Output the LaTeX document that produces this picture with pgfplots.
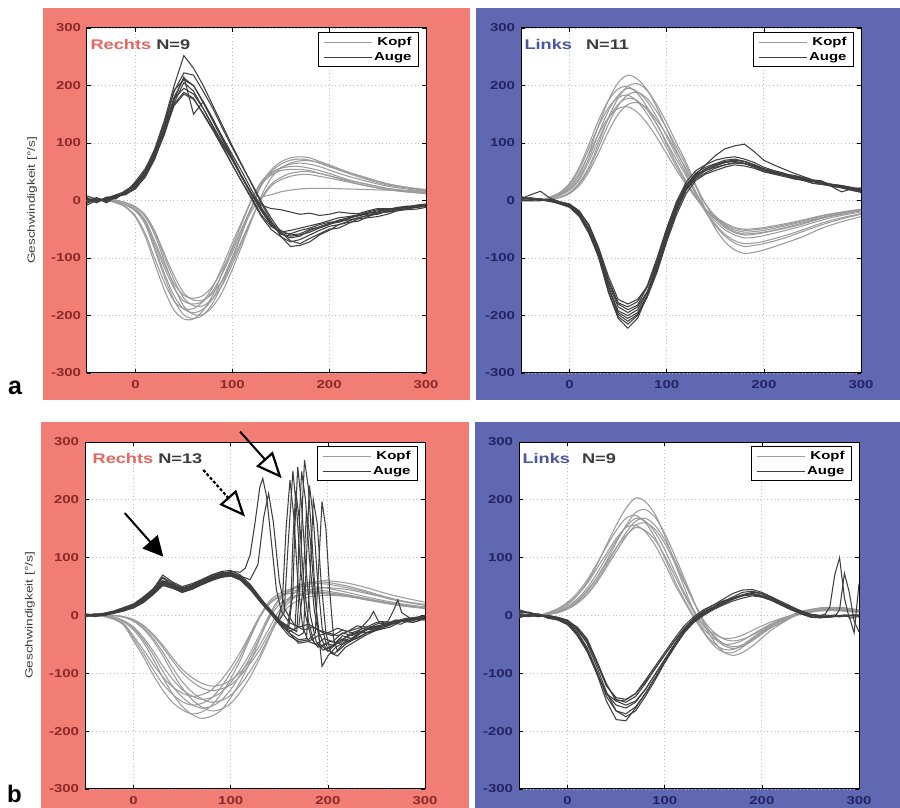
\documentclass[border=0pt]{standalone}
\usepackage{fontspec}
\setmainfont{Liberation Sans}[FakeStretch=1.3]
\newfontfamily\plainfont{Liberation Sans}
\usepackage{pgfplots}
\usepackage{pgfplotstable}
\pgfplotsset{compat=1.18}
\usetikzlibrary{arrows.meta}

\definecolor{redbg}{RGB}{242,125,116}
\definecolor{bluebg}{RGB}{96,104,178}
\definecolor{redtick}{RGB}{140,40,40}
\definecolor{bluetick}{RGB}{35,35,100}
\definecolor{rechtsc}{RGB}{232,102,96}
\definecolor{linksc}{RGB}{75,85,165}
\definecolor{darkt}{RGB}{60,60,60}
\definecolor{headc}{RGB}{155,155,155}
\definecolor{eyec}{RGB}{62,62,62}

% ---------- a, Rechts: Kopf ----------
\pgfplotstableread{
t h1 h2 h3 h4 h5 h6 h7 h8 h9
-50 0 0 0 0 0 0 0 0 0
-40 0 0 0 0 0 0 0 0 0
-30 0 0 0 0 0 0 0 0 0
-20 -4 -2 0 -2 -4 0 -2 0 -2
-10 -12 -8 -4 -8 -11 -4 -7 -4 -7
0 -29 -18 -12 -18 -27 -11 -16 -11 -15
10 -62 -41 -28 -39 -57 -26 -36 -25 -34
20 -110 -86 -60 -82 -101 -56 -76 -53 -71
30 -156 -133 -106 -127 -143 -98 -117 -93 -111
40 -191 -174 -150 -166 -175 -139 -153 -131 -145
50 -206 -199 -184 -189 -188 -170 -175 -161 -165
60 -206 -205 -198 -195 -188 -183 -180 -173 -170
70 -191 -199 -198 -189 -175 -183 -175 -173 -165
80 -164 -178 -184 -170 -150 -170 -157 -161 -148
90 -125 -144 -158 -137 -114 -146 -126 -138 -119
100 -81 -103 -120 -98 -74 -111 -90 -105 -85
110 -40 -57 -78 -55 -36 -72 -50 -68 -48
120 1 -13 -34 -13 2 -32 -18 -31 -10
130 30 30 8 26 33 4 5 2 29
140 44 53 39 46 48 28 10 25 50
150 52 67 56 57 56 40 15 36 63
160 54 74 65 63 59 47 18 42 70
170 54 76 69 65 59 50 20 45 72
180 52 74 69 63 56 50 21 45 70
190 47 68 66 59 52 47 21 42 65
200 43 62 60 53 47 43 21 39 59
220 33 49 49 42 36 35 20 32 47
240 25 38 39 33 28 28 19 25 36
260 19 29 29 25 21 21 18 19 27
280 15 23 23 20 17 17 17 15 22
300 12 18 19 16 13 14 16 12 17
}\aLh

% ---------- a, Rechts: Auge ----------
\pgfplotstableread{
t e1 e2 e3 e4 e5 e6 e7 e8 e9
-50 5 -3 2 8 -5 3 0 -8 4
-40 -2 4 -4 2 3 -3 5 0 -2
-30 4 1 6 -2 0 5 -4 3 2
-20 10 6 4 9 5 8 6 3 7
-10 16 12 15 10 18 14 11 16 13
0 30 24 28 22 27 30 20 25 33
10 52 45 48 40 44 50 42 46 55
20 90 82 80 72 78 85 75 80 88
30 140 130 125 118 122 128 115 120 135
40 200 190 180 170 175 178 168 165 192
50 252 222 213 205 215 195 188 185 210
60 230 218 200 190 150 185 178 176 200
70 200 190 172 160 172 160 150 152 170
80 165 160 140 128 142 130 122 124 138
90 130 125 110 95 108 100 92 98 105
100 95 92 80 62 75 72 62 70 72
110 62 60 50 32 42 40 32 40 40
120 28 30 18 5 12 10 2 12 10
130 -5 -2 -12 -25 -18 -8 -28 -15 -18
140 -35 -30 -38 -45 -42 -14 -50 -40 -42
150 -62 -55 -52 -55 -58 -16 -63 -58 -56
160 -80 -70 -60 -52 -62 -20 -72 -65 -58
170 -78 -75 -58 -48 -60 -24 -68 -62 -52
180 -72 -66 -50 -44 -55 -22 -60 -52 -48
190 -60 -58 -46 -40 -48 -26 -52 -46 -42
200 -52 -50 -40 -35 -42 -24 -45 -40 -38
210 -42 -48 -38 -30 -36 -20 -42 -34 -36
220 -38 -40 -32 -28 -34 -22 -36 -30 -30
230 -36 -32 -25 -25 -30 -23 -30 -27 -26
240 -28 -30 -22 -20 -26 -18 -26 -22 -24
250 -22 -28 -20 -16 -22 -14 -24 -18 -22
260 -20 -24 -16 -15 -20 -14 -18 -16 -18
270 -18 -18 -12 -14 -16 -15 -14 -14 -13
280 -14 -16 -10 -12 -15 -12 -12 -10 -12
290 -10 -15 -12 -8 -12 -9 -11 -9 -12
300 -10 -12 -8 -6 -10 -8 -9 -7 -10
}\aLe

% ---------- a, Links: Kopf ----------
\pgfplotstableread{
t h1 h2 h3 h4 h5 h6 h7 h8 h9
-50 0 0 0 0 0 0 0 0 0
-40 0 0 0 0 0 0 0 0 0
-30 0 0 0 0 0 0 0 0 0
-20 4 2 6 4 2 6 4 2 5
-10 11 6 14 10 6 13 9 5 12
0 22 14 30 20 13 28 18 12 25
10 44 31 58 39 29 54 36 26 48
20 83 59 98 74 55 91 68 50 81
30 131 100 140 117 93 130 107 84 116
40 174 144 174 156 133 161 142 120 144
50 205 178 194 183 165 179 167 150 160
60 218 199 198 195 184 183 178 167 163
70 211 203 186 189 188 172 173 170 153
80 192 191 162 172 177 150 157 160 134
90 161 166 132 144 154 122 132 139 109
100 124 135 98 111 125 91 101 114 81
110 87 100 64 78 93 59 71 84 53
120 52 66 34 47 61 31 43 55 28
130 15 26 6 12 26 6 10 24 4
140 -16 -16 -17 -19 -7 -15 -20 -6 -17
150 -36 -49 -30 -41 -31 -28 -44 -27 -32
160 -51 -72 -43 -59 -47 -39 -62 -41 -45
170 -60 -86 -51 -70 -56 -47 -74 -48 -54
180 -65 -92 -55 -75 -60 -50 -80 -52 -58
190 -64 -90 -54 -74 -59 -49 -78 -51 -57
200 -61 -86 -52 -71 -56 -47 -75 -49 -55
220 -53 -75 -45 -62 -49 -41 -66 -43 -48
240 -44 -63 -37 -51 -41 -34 -54 -35 -39
260 -34 -48 -29 -39 -31 -26 -42 -27 -30
280 -26 -37 -22 -30 -24 -20 -32 -21 -23
300 -20 -28 -17 -23 -18 -15 -24 -16 -17
}\aRh

% ---------- a, Links: Auge ----------
\pgfplotstableread{
t e1 e2 e3 e4 e5 e6 e7 e8 e9
-50 5 2 6 3 0 4 1 7 3
-40 3 4 2 10 1 3 0 2 5
-30 2 0 3 16 2 1 3 0 2
-20 0 2 -1 4 1 -2 0 1 0
-10 -5 -3 -6 -2 -4 -5 -3 -6 -4
0 -10 -8 -12 -6 -9 -8 -7 -11 -9
10 -26 -22 -28 -18 -24 -20 -19 -25 -23
20 -55 -50 -58 -45 -50 -44 -42 -52 -52
30 -100 -92 -98 -88 -90 -85 -82 -95 -96
40 -160 -150 -152 -145 -140 -138 -132 -150 -158
50 -205 -198 -192 -185 -180 -178 -172 -195 -202
60 -222 -210 -200 -195 -190 -185 -180 -205 -215
70 -205 -198 -190 -185 -182 -176 -172 -195 -200
80 -165 -165 -160 -158 -150 -148 -150 -165 -168
90 -115 -120 -115 -110 -105 -100 -108 -120 -125
100 -60 -68 -62 -55 -50 -48 -55 -65 -72
110 -15 -20 -14 -8 -5 -2 -10 -18 -25
120 20 18 22 26 28 32 24 18 12
130 40 45 42 48 45 52 44 38 35
140 52 62 55 58 52 62 55 48 46
150 60 78 62 64 58 70 62 56 52
160 66 90 68 70 62 74 66 62 58
170 70 95 70 72 65 76 68 66 62
180 68 98 68 68 64 72 65 64 60
190 62 85 62 62 60 66 60 58 56
200 55 70 55 55 52 58 54 50 50
210 52 62 48 50 48 52 48 46 47
220 46 55 46 45 44 48 45 42 44
230 40 48 44 38 42 42 40 38 40
240 38 42 40 36 38 40 37 35 38
250 34 36 34 33 30 35 34 30 33
260 30 34 32 30 28 32 30 28 30
270 28 24 28 26 25 28 26 25 27
280 25 15 26 24 22 26 24 22 24
290 21 20 22 20 18 23 20 18 21
300 18 22 20 16 15 20 16 14 18
}\aRe

% ---------- b, Rechts: Kopf ----------
\pgfplotstableread{
t h1 h2 h3 h4 h5 h6 h7 h8 h9 h10
-50 0 0 0 0 0 0 0 0 0 0
-40 0 0 0 0 0 0 0 0 0 0
-30 0 -2 0 0 -2 0 0 -1 0 0
-20 -4 -7 0 -3 -6 0 -3 -6 0 0
-10 -11 -17 -3 -10 -16 -3 -9 -14 -3 -2
0 -25 -44 -10 -22 -40 -9 -20 -36 -8 -7
10 -46 -71 -23 -42 -65 -21 -38 -59 -18 -17
20 -75 -102 -43 -67 -93 -39 -61 -84 -34 -32
30 -107 -129 -69 -96 -118 -63 -87 -106 -55 -51
40 -135 -150 -99 -122 -136 -90 -110 -123 -78 -73
50 -157 -163 -125 -141 -149 -114 -128 -134 -99 -93
60 -171 -170 -145 -154 -155 -132 -139 -140 -114 -107
70 -178 -167 -158 -160 -152 -144 -145 -137 -125 -117
80 -174 -156 -165 -157 -143 -150 -142 -129 -130 -122
90 -164 -136 -162 -147 -124 -147 -133 -112 -127 -120
100 -142 -109 -152 -128 -99 -138 -116 -90 -120 -112
110 -114 -77 -132 -102 -70 -120 -93 -63 -104 -98
120 -80 -39 -106 -72 -35 -96 -65 -32 -83 -78
130 -40 -3 -74 -38 -1 -68 -32 -1 -59 -51
140 -1 22 -37 -4 25 -35 2 20 -29 -21
150 26 34 1 19 38 -4 29 32 1 9
160 41 41 30 30 45 16 44 38 23 27
170 50 44 45 36 49 26 52 41 36 34
180 54 45 54 39 50 32 57 42 43 37
190 55 44 59 40 49 34 58 41 47 38
200 54 42 60 39 47 35 57 39 48 37
220 48 36 56 35 40 33 51 34 45 33
240 40 29 48 29 32 28 42 27 38 27
260 30 23 38 22 25 22 32 21 31 21
280 23 17 30 17 19 18 24 16 24 16
300 18 14 23 13 15 13 19 13 18 12
}\bLh

% ---------- b, Links: Kopf ----------
\pgfplotstableread{
t h1 h2 h3 h4 h5 h6 h7 h8
-50 0 0 0 0 0 0 0 0
-40 0 0 0 0 0 0 0 0
-30 0 0 0 0 0 0 0 0
-20 4 2 5 3 2 5 3 2
-10 10 6 12 8 5 11 8 5
0 18 13 23 15 11 21 14 12
10 35 24 39 29 21 35 26 22
20 57 41 61 47 36 55 43 37
30 87 65 89 72 57 81 65 60
40 122 94 119 101 83 107 91 87
50 156 126 147 129 110 133 117 116
60 185 155 168 153 136 152 138 143
70 203 178 173 168 156 156 152 163
80 197 183 161 163 160 145 147 168
90 175 170 135 144 149 122 131 156
100 138 142 100 114 125 90 103 131
110 93 105 61 77 92 55 70 97
120 49 65 28 40 57 25 36 60
130 7 25 -1 9 23 -4 6 23
140 -27 -14 -23 -17 -8 -29 -18 -10
150 -47 -43 -39 -34 -28 -51 -31 -36
160 -58 -62 -49 -48 -40 -63 -39 -51
170 -59 -69 -49 -54 -44 -64 -39 -57
180 -51 -64 -43 -51 -41 -55 -34 -53
190 -39 -53 -33 -41 -34 -42 -26 -44
200 -27 -39 -23 -30 -25 -29 -18 -32
210 -17 -25 -14 -20 -16 -18 -11 -21
220 -7 -14 -6 -11 -9 -8 -5 -12
230 0 -4 0 -3 -3 0 0 -3
240 6 4 5 3 2 7 4 3
260 12 13 10 10 8 13 8 10
280 12 14 10 11 9 13 8 12
300 7 10 6 8 6 8 5 8
}\bRh

% ---------- b, Links: Auge ----------
\pgfplotstableread{
t e1 e2 e3 e4 e5 e6 e7 e8
-50 8 3 -2 5 0 10 2 -4
-40 4 2 1 6 -2 5 0 1
-30 2 0 3 1 1 0 -2 2
-20 -2 -1 -4 0 -3 -2 0 -5
-10 -6 -4 -8 -3 -5 -6 -4 -7
0 -14 -10 -16 -8 -12 -13 -9 -15
10 -30 -24 -32 -22 -25 -28 -20 -35
20 -58 -48 -60 -42 -45 -55 -40 -62
30 -100 -88 -98 -80 -82 -95 -78 -100
40 -148 -132 -135 -120 -122 -140 -118 -135
50 -180 -165 -155 -145 -142 -165 -148 -148
60 -182 -175 -160 -150 -145 -170 -155 -146
70 -160 -165 -150 -140 -135 -158 -148 -135
80 -135 -140 -128 -118 -115 -135 -128 -112
90 -108 -112 -102 -92 -92 -108 -102 -88
100 -80 -82 -76 -68 -68 -80 -76 -64
110 -52 -55 -50 -45 -44 -54 -50 -40
120 -28 -30 -26 -24 -22 -30 -27 -18
130 -10 -10 -8 -6 -5 -12 -10 -2
140 2 4 5 6 8 0 2 10
150 12 14 14 15 18 10 12 18
160 20 24 22 24 28 18 20 25
170 28 32 30 30 38 25 28 30
180 35 40 36 34 44 30 34 35
190 38 42 40 36 45 34 38 36
200 34 38 38 32 40 32 35 32
210 28 30 32 26 32 28 30 26
220 20 22 24 18 22 20 22 18
230 12 14 16 10 14 12 14 10
240 5 8 8 4 6 6 8 3
250 0 2 2 -2 0 0 2 -3
260 -2 0 -1 -4 -2 -2 0 -4
265 -1 2 -2 -3 -1 -3 1 -3
270 -2 15 -2 -3 -2 -2 0 -2
275 -1 70 -1 -2 -1 -1 1 -2
280 -2 100 -1 10 -1 -2 0 -2
285 -1 30 0 73 0 -1 1 -1
290 0 -5 0 40 0 -2 0 -1
295 0 -3 1 -10 0 -30 0 0
300 0 -2 0 -28 1 55 0 0
}\bRe

\pgfplotsset{
  kopfline/.style={headc, line width=1.05pt, smooth},
  augeline/.style={eyec, line width=1.05pt},
  panel/.style={
    scale only axis, anchor=south west,
    xmin=-50, xmax=300, ymin=-300, ymax=300,
    xtick={0,100,200,300}, xticklabels={0,100,200,300},
    ytick={-300,-200,-100,0,100,200,300},
    yticklabels={-300,-200,-100,0,100,200,300},
    grid=major,
    grid style={gray!50, line width=0.9pt, dash pattern=on 1pt off 2.6pt},
    axis line style={black, line width=1pt},
    tick style={black, line width=0.7pt},
    major tick length=4pt,
    axis background/.style={fill=white},
    ticklabel style={font=\bfseries\fontsize{11.5}{12}\selectfont},
    yticklabel style={xshift=-2.5pt},
    xticklabel style={yshift=-4pt},
    legend cell align=right,
    legend style={at={(1,1)}, anchor=north east, xshift=-7pt, yshift=-4pt,
      draw=black, line width=1pt, fill=white,
      font=\bfseries\fontsize{11.5}{12}\selectfont, inner xsep=5pt, inner ysep=3pt,
      row sep=1pt},
    legend image code/.code={\draw[#1] (0pt,0pt) -- (48pt,0pt);},
  },
  leftlabel/.style={
    ylabel={Geschwindigkeit [°/s]},
    ylabel style={at={(axis description cs:-0.162,0.5)}, anchor=center,
      font=\fontsize{10.5}{11}\selectfont, text=darkt},
  },
}

\begin{document}
\begin{tikzpicture}[x=1pt,y=1pt]
\useasboundingbox (0,0) rectangle (900,808);
\fill[redbg] (43,408) rectangle (470,800);
\fill[bluebg] (476,408) rectangle (900,800);
\fill[redbg] (41,0) rectangle (469,386);
\fill[bluebg] (475,0) rectangle (900,386);
\node[anchor=base west, inner sep=0pt, font=\plainfont\bfseries\fontsize{25}{26}\selectfont] at (8,413) {a};
\node[anchor=base west, inner sep=0pt, font=\plainfont\bfseries\fontsize{24}{25}\selectfont] at (7,5) {b};

% ===== a left =====
\begin{axis}[panel, leftlabel, at={(87pt,435pt)}, width=339pt, height=345pt,
  ticklabel style={text=redtick}]
\pgfplotsinvokeforeach{1,...,9}{\addplot[kopfline, forget plot] table[x=t,y=h#1] {\aLh};}
\pgfplotsinvokeforeach{1,...,9}{\addplot[augeline, forget plot] table[x=t,y=e#1] {\aLe};}
\node[anchor=base west, font=\bfseries\fontsize{14}{15}\selectfont] at (rel axis cs:0,0.939)
  {\textcolor{rechtsc}{Rechts} \textcolor{darkt}{N=9}};
\addlegendimage{kopfline}\addlegendentry{Kopf}
\addlegendimage{augeline}\addlegendentry{Auge}
\end{axis}

% ===== a right =====
\begin{axis}[panel, at={(521pt,435pt)}, width=340pt, height=345pt,
  ticklabel style={text=bluetick}]
\pgfplotsinvokeforeach{1,...,9}{\addplot[kopfline, forget plot] table[x=t,y=h#1] {\aRh};}
\pgfplotsinvokeforeach{1,...,9}{\addplot[augeline, forget plot] table[x=t,y=e#1] {\aRe};}
\node[anchor=base west, font=\bfseries\fontsize{14}{15}\selectfont] at (rel axis cs:0,0.939)
  {\textcolor{linksc}{Links}\hspace{14pt}\textcolor{darkt}{N=11}};
\addlegendimage{kopfline}\addlegendentry{Kopf}
\addlegendimage{augeline}\addlegendentry{Auge}
\end{axis}

% ===== b left =====
\begin{axis}[panel, leftlabel, at={(85pt,19pt)}, width=340pt, height=347pt,
  ticklabel style={text=redtick}, clip=false]
\pgfplotsinvokeforeach{1,...,10}{\addplot[kopfline, forget plot] table[x=t,y=h#1] {\bLh};}
\addplot[augeline, forget plot] coordinates {(-50,2)(-40,-1)(-30,3)(-20,6)(-10,11)(0,18)(10,30)(20,44)(30,60)(40,55)(50,46)(60,52)(70,60)(80,66)(90,72)(100,76)(110,75)(115,82)(120,105)(125,160)(130,222)(133,237)(137,205)(142,125)(147,45)(152,8)(160,-12)(170,-20)(180,-15)(190,-25)(200,-30)(210,-22)(220,-28)(230,-18)(240,-20)(250,-12)(260,-15)(270,-8)(280,-10)(290,-4)(300,-6)};
\addplot[augeline, forget plot] coordinates {(-50,0)(-40,2)(-30,1)(-20,5)(-10,9)(0,15)(10,26)(20,40)(30,56)(40,50)(50,42)(60,48)(70,56)(80,64)(90,70)(100,72)(110,68)(120,62)(128,88)(134,170)(139,211)(144,160)(150,60)(156,10)(165,-15)(175,-25)(185,-20)(195,-30)(205,-35)(215,-25)(225,-30)(240,-20)(255,-18)(270,-10)(285,-8)(300,-4)};
\addplot[augeline, forget plot] coordinates {(-50,-2)(-40,1)(-30,4)(-20,7)(-10,10)(0,14)(10,24)(20,36)(30,52)(40,48)(50,40)(60,46)(70,54)(80,62)(90,66)(100,70)(110,64)(120,50)(130,30)(140,10)(148,-10)(153,20)(157,150)(161,234)(165,170)(169,60)(174,-20)(180,-45)(188,-50)(196,-40)(205,-45)(215,-30)(225,-35)(235,-22)(245,-25)(258,-15)(270,-12)(285,-6)(300,-8)};
\addplot[augeline, forget plot] coordinates {(-50,1)(-40,0)(-30,2)(-20,5)(-10,12)(0,17)(10,28)(20,42)(30,65)(40,52)(50,44)(60,50)(70,58)(80,66)(90,72)(100,74)(110,66)(120,50)(130,28)(140,8)(150,-8)(155,5)(159,120)(164,250)(168,180)(172,80)(177,0)(183,-40)(190,-55)(198,-48)(206,-52)(215,-35)(225,-40)(238,-25)(250,-22)(262,-12)(275,-15)(288,-5)(300,-3)};
\addplot[augeline, forget plot] coordinates {(-50,3)(-40,1)(-30,0)(-20,4)(-10,8)(0,15)(10,27)(20,38)(30,58)(40,54)(50,48)(60,52)(70,60)(80,67)(90,73)(100,72)(110,62)(120,46)(130,24)(140,6)(150,-12)(160,-18)(164,40)(166,150)(169,257)(173,190)(177,90)(182,0)(188,-45)(195,-60)(203,-55)(212,-40)(222,-45)(232,-28)(244,-30)(256,-18)(268,-14)(280,-8)(292,-10)(300,-4)};
\addplot[augeline, forget plot] coordinates {(-50,-1)(-40,2)(-30,3)(-20,7)(-10,13)(0,19)(10,31)(20,45)(30,70)(40,58)(50,50)(60,55)(70,62)(80,70)(90,76)(100,78)(110,70)(120,54)(130,32)(140,10)(150,-10)(160,-22)(166,-25)(169,60)(171,180)(173,249)(177,200)(181,100)(186,10)(192,-50)(200,-62)(208,-50)(218,-42)(228,-38)(238,-25)(250,-20)(262,-14)(275,-10)(288,-12)(300,-5)};
\addplot[augeline, forget plot] coordinates {(-50,2)(-40,-2)(-30,1)(-20,5)(-10,10)(0,16)(10,26)(20,40)(30,60)(40,50)(50,43)(60,49)(70,57)(80,63)(90,70)(100,73)(110,67)(120,50)(130,30)(140,12)(150,-8)(160,-20)(168,-28)(172,80)(174,200)(176,269)(180,220)(184,120)(188,10)(194,-88)(200,-70)(208,-55)(218,-45)(230,-40)(242,-28)(254,-22)(266,-14)(278,-8)(290,-6)(300,-3)};
\addplot[augeline, forget plot] coordinates {(-50,0)(-40,3)(-30,2)(-20,6)(-10,9)(0,14)(10,24)(20,38)(30,54)(40,50)(50,42)(60,47)(70,55)(80,62)(90,68)(100,70)(110,63)(120,48)(130,28)(140,10)(150,-10)(160,-25)(170,-35)(175,-30)(178,100)(181,225)(185,170)(189,70)(194,-20)(200,-60)(207,-66)(215,-50)(224,-42)(234,-30)(246,-28)(258,-16)(270,-12)(282,-6)(300,-2)};
\addplot[augeline, forget plot] coordinates {(-50,1)(-40,-1)(-30,3)(-20,6)(-10,11)(0,17)(10,29)(20,41)(30,57)(40,53)(50,45)(60,51)(70,59)(80,65)(90,71)(100,73)(110,65)(120,49)(130,29)(140,9)(150,-12)(160,-30)(170,-42)(178,-40)(182,80)(185,200)(189,160)(193,60)(198,-30)(203,-65)(210,-70)(218,-55)(228,-45)(238,-35)(250,-25)(262,-18)(274,-10)(286,-8)(300,-4)};
\addplot[augeline, forget plot] coordinates {(-50,-2)(-40,0)(-30,2)(-20,4)(-10,8)(0,13)(10,22)(20,36)(30,52)(40,47)(50,40)(60,45)(70,53)(80,60)(90,66)(100,68)(110,62)(120,47)(130,27)(140,8)(150,-15)(160,-35)(170,-45)(180,-42)(187,-30)(191,100)(194,197)(198,150)(202,40)(206,-40)(210,-62)(218,-50)(228,-40)(240,-30)(252,-25)(264,-20)(276,-10)(288,-8)(300,-3)};
\addplot[augeline, forget plot] coordinates {(-50,0)(-40,1)(-30,4)(-20,8)(-10,14)(0,20)(10,32)(20,46)(30,66)(40,56)(50,47)(60,53)(70,61)(80,69)(90,74)(100,75)(110,68)(120,52)(130,30)(140,8)(150,-14)(158,-25)(162,20)(164,130)(167,215)(171,160)(175,60)(180,-10)(186,-48)(193,-55)(202,-45)(212,-48)(222,-32)(234,-30)(246,-20)(258,-15)(270,-8)(285,-10)(300,-2)};
\addplot[augeline, forget plot] coordinates {(-50,1)(-40,0)(-30,1)(-20,5)(-10,10)(0,15)(10,25)(20,39)(30,55)(40,49)(50,41)(60,46)(70,54)(80,61)(90,67)(100,69)(110,61)(120,45)(130,25)(140,5)(150,-15)(160,-28)(170,-20)(174,40)(178,180)(182,130)(186,40)(191,-30)(198,-58)(206,-50)(216,-40)(226,-32)(238,-25)(250,-15)(262,-10)(268,10)(272,27)(276,5)(285,-5)(300,0)};
\addplot[augeline, forget plot] coordinates {(-50,-1)(-40,1)(-30,2)(-20,6)(-10,10)(0,16)(10,27)(20,40)(30,58)(40,51)(50,44)(60,50)(70,57)(80,64)(90,69)(100,71)(110,64)(120,48)(130,26)(140,6)(150,-10)(160,-30)(170,-48)(180,-45)(190,-35)(200,-30)(210,-35)(220,-28)(235,-20)(243,-5)(247,7)(252,-10)(265,-12)(280,-5)(300,-2)};
\node[anchor=base west, font=\bfseries\fontsize{14}{15}\selectfont] at (rel axis cs:0.012,0.939)
  {\textcolor{rechtsc}{Rechts} \textcolor{darkt}{N=13}};
\draw[black, line width=2pt, -{Triangle[length=20pt,width=20pt]}] (axis cs:-9,177) -- (axis cs:30.6,101.7);
\draw[black, line width=2.2pt, dash pattern=on 3pt off 2pt, -{Triangle[open,length=26pt,width=22pt,line width=2.2pt]}] (axis cs:71.8,251.7) -- (axis cs:114.7,171);
\draw[black, line width=2pt, -{Triangle[open,length=26pt,width=22pt,line width=2.2pt]}] (axis cs:109.6,318) -- (axis cs:152.5,237.4);
\addlegendimage{kopfline}\addlegendentry{Kopf}
\addlegendimage{augeline}\addlegendentry{Auge}
\end{axis}

% ===== b right =====
\begin{axis}[panel, at={(519pt,19pt)}, width=340pt, height=347pt,
  ticklabel style={text=bluetick}]
\pgfplotsinvokeforeach{1,...,8}{\addplot[kopfline, forget plot] table[x=t,y=h#1] {\bRh};}
\pgfplotsinvokeforeach{1,...,8}{\addplot[augeline, forget plot] table[x=t,y=e#1] {\bRe};}
\node[anchor=base west, font=\bfseries\fontsize{14}{15}\selectfont] at (rel axis cs:0,0.939)
  {\textcolor{linksc}{Links}\hspace{12pt}\textcolor{darkt}{N=9}};
\addlegendimage{kopfline}\addlegendentry{Kopf}
\addlegendimage{augeline}\addlegendentry{Auge}
\end{axis}
\end{tikzpicture}
\end{document}
